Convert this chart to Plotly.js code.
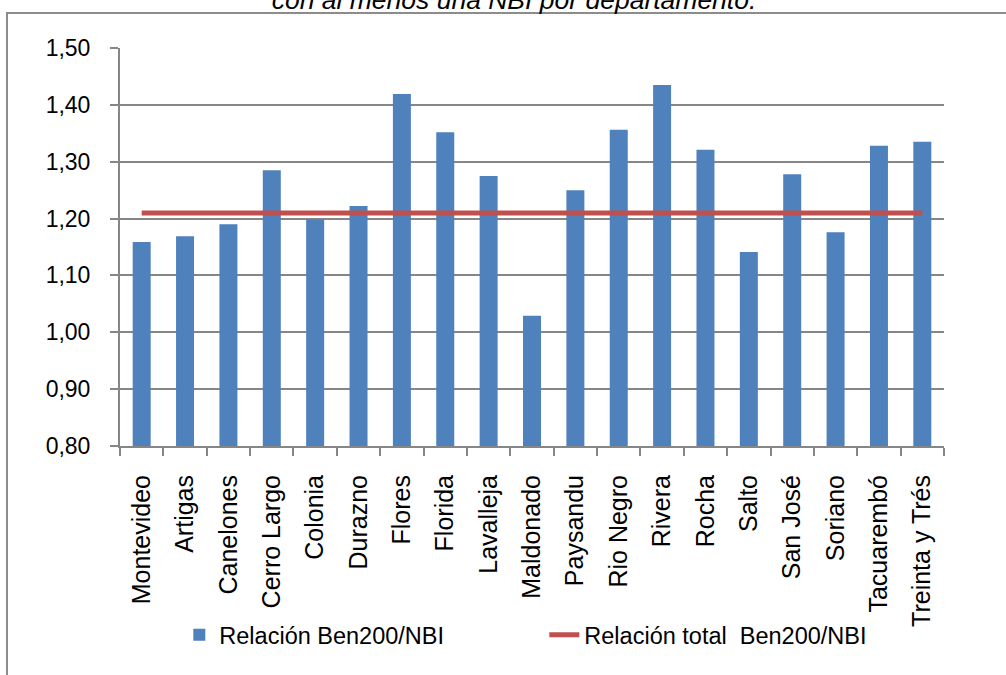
<!DOCTYPE html>
<html>
<head>
<meta charset="utf-8">
<script src="https://cdn.plot.ly/plotly-3.0.1.min.js"></script>
<style>
  html, body { margin: 0; padding: 0; background: #ffffff; }
  #chart { width: 1006px; height: 675px; }
</style>
</head>
<body>
<div id="chart"></div>
<script>
const departamentos = ["Montevideo", "Artigas", "Canelones", "Cerro Largo", "Colonia", "Durazno", "Flores", "Florida", "Lavalleja", "Maldonado", "Paysandu", "Rio Negro", "Rivera", "Rocha", "Salto", "San José", "Soriano", "Tacuarembó", "Treinta y Trés"];
const relacionBen200NBI = [1.159, 1.169, 1.190, 1.285, 1.199, 1.222, 1.419, 1.352, 1.275, 1.029, 1.250, 1.356, 1.435, 1.321, 1.141, 1.278, 1.176, 1.328, 1.335];
const relacionTotal = [1.21, 1.21, 1.21, 1.21, 1.21, 1.21, 1.21, 1.21, 1.21, 1.21, 1.21, 1.21, 1.21, 1.21, 1.21, 1.21, 1.21, 1.21, 1.21];
const yTickVals = [0.8, 0.9, 1.0, 1.1, 1.2, 1.3, 1.4, 1.5];
const titulo = "con al menos una NBI por departamento.";
const nombreBarras = "Relación Ben200/NBI";
const nombreLinea = "Relación total  Ben200/NBI";

const FONT = "Liberation Sans, Arial, sans-serif";
const GRID = "#868686";

const data = [
  {
    type: "bar",
    x: departamentos,
    y: relacionBen200NBI,
    name: nombreBarras,
    marker: { color: "#4F81BD" },
    hoverinfo: "x+y"
  },
  {
    type: "scatter",
    mode: "lines",
    x: departamentos,
    y: relacionTotal,
    name: nombreLinea,
    line: { color: "#C0504D", width: 5 },
    hoverinfo: "x+y"
  }
];

const layout = {
  width: 1006,
  height: 675,
  margin: { l: 120, r: 62, t: 48, b: 229 },
  paper_bgcolor: "#ffffff",
  plot_bgcolor: "#ffffff",
  separators: ",.",
  font: { family: FONT, color: "#000000", size: 22 },
  bargap: 0.585,
  showlegend: true,
  title: {
    text: "<i>" + titulo + "</i>",
    font: { family: FONT, size: 26.5, color: "#000000" },
    x: 514 / 1006,
    xanchor: "center",
    xref: "container",
    y: 1.0,
    yref: "container",
    yanchor: "middle"
  },
  xaxis: {
    type: "category",
    showline: true,
    linecolor: GRID,
    linewidth: 2,
    ticks: "outside",
    tickson: "boundaries",
    ticklen: 8,
    tickwidth: 2,
    tickcolor: GRID,
    tickangle: -90,
    ticklabelstandoff: 17,
    tickfont: { family: FONT, size: 25, color: "#000000" },
    showgrid: false,
    zeroline: false,
    fixedrange: true
  },
  yaxis: {
    range: [0.8, 1.5],
    tickvals: yTickVals,
    tickformat: ".2f",
    showline: true,
    linecolor: GRID,
    linewidth: 2,
    ticks: "outside",
    ticklen: 8,
    tickwidth: 2,
    tickcolor: GRID,
    ticklabelstandoff: 15,
    tickfont: { family: FONT, size: 23, color: "#000000" },
    showgrid: true,
    gridcolor: GRID,
    gridwidth: 2,
    zeroline: false,
    fixedrange: true
  },
  legend: {
    orientation: "h",
    x: 0.072,
    xanchor: "left",
    y: -0.475,
    yanchor: "middle",
    entrywidth: 320,
    font: { family: FONT, size: 23.5, color: "#000000" },
    bgcolor: "rgba(0,0,0,0)"
  },
  shapes: [
    {
      type: "rect",
      xref: "paper",
      yref: "paper",
      x0: (7 - 120) / 824,
      x1: (1020 - 120) / 824,
      y0: (446 - 690) / 398,
      y1: (446 - 13) / 398,
      line: { color: "#8c8c8c", width: 2 },
      fillcolor: "rgba(0,0,0,0)",
      layer: "below"
    }
  ]
};

Plotly.newPlot("chart", data, layout, { displayModeBar: false, staticPlot: true });
</script>
</body>
</html>
